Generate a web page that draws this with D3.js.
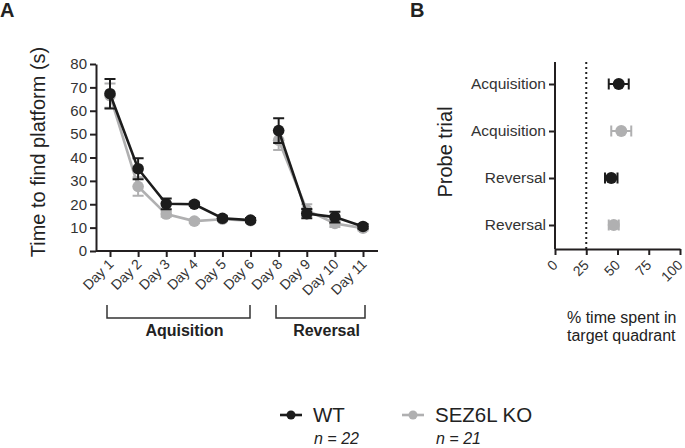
<!DOCTYPE html>
<html><head><meta charset="utf-8">
<script src="https://cdn.jsdelivr.net/npm/d3@7"></script>
<style>
body{margin:0;background:#fff;}
svg{font-family:"Liberation Sans",Arial,Helvetica,sans-serif;}
</style></head>
<body><svg id="c" width="685" height="448"></svg>
<script>
// ---- Data ----
const days = ["Day 1","Day 2","Day 3","Day 4","Day 5","Day 6","Day 8","Day 9","Day 10","Day 11"];
const wtMean = [67.3,35.2,20.2,20.0,14.0,13.2,51.5,16.0,14.5,10.5];
const wtSem  = [6.3,4.5,2.3,0.8,0.9,0.9,5.3,2.0,2.3,1.0];
const koMean = [66.5,27.6,15.8,12.8,13.6,13.0,47.4,17.5,11.8,9.8];
const koSem  = [5.2,4.0,1.2,0.9,0.9,0.9,4.2,2.5,1.5,1.0];
const segments = [[0,6],[6,10]]; // Day 1-6, Day 8-11
const yTicksA = [0,10,20,30,40,50,60,70,80];

const probeLabels = ["Acquisition","Acquisition","Reversal","Reversal"];
const probeGroup  = ["WT","KO","WT","KO"];
const probeMean   = [51,53,45,47];
const probeSem    = [8,8,5,4];
const xTicksB = [0,25,50,75,100];
const chance = 25;

const colWT = "#1c1c1c", colKO = "#b0b0b1", axisCol = "#231f20", textCol = "#333";
const FF = '"Liberation Sans",Arial,Helvetica,sans-serif';

const svg = d3.select("#c");

// ---- Panel A ----
const xA = d3.scalePoint().domain(days).range([110,363]);
const yA = d3.scaleLinear().domain([0,80]).range([251,64]);

const gyA = svg.append("g").attr("transform","translate(96,0)")
  .call(d3.axisLeft(yA).tickValues(yTicksA).tickSize(6).tickSizeOuter(0));
const gxA = svg.append("g").attr("transform","translate(0,251)")
  .call(d3.axisBottom(xA).tickSize(6).tickSizeOuter(0));
gxA.select(".domain").attr("d","M96,0H378");
[gyA,gxA].forEach(g=>{
  g.attr("font-family",FF);
  g.selectAll(".domain,line").attr("stroke",axisCol).attr("stroke-width",2);
  g.selectAll("text").attr("fill",textCol).attr("font-size",15);
});
gyA.selectAll("text").attr("x",-9);
gxA.selectAll("text").attr("font-size",14).attr("text-anchor","end")
  .attr("dy",0).attr("y",0)
  .attr("transform","translate(4,14) rotate(-45)");

function drawSeries(mean, sem, col){
  const g = svg.append("g");
  segments.forEach(([a,b])=>{
    const idx = d3.range(a,b);
    g.append("path")
      .attr("d", d3.line().x(i=>xA(days[i])).y(i=>yA(mean[i]))(idx))
      .attr("fill","none").attr("stroke",col).attr("stroke-width",2.6);
  });
  days.forEach((d,i)=>{
    const x = xA(d), y1 = yA(mean[i]+sem[i]), y0 = yA(mean[i]-sem[i]);
    g.append("path").attr("d",`M${x},${y0}V${y1}M${x-5.5},${y1}H${x+5.5}M${x-5.5},${y0}H${x+5.5}`)
      .attr("stroke",col).attr("stroke-width",2).attr("fill","none");
    g.append("circle").attr("cx",x).attr("cy",yA(mean[i])).attr("r",5.8).attr("fill",col);
  });
}
drawSeries(koMean, koSem, colKO);
drawSeries(wtMean, wtSem, colWT);

svg.append("text").attr("transform","translate(45,152) rotate(-90)")
  .attr("text-anchor","middle").attr("font-size",20).attr("fill","#222")
  .text("Time to find platform (s)");

// brackets
function bracket(x0,x1,label){
  svg.append("path").attr("d",`M${x0},305V318H${x1}V305`)
    .attr("fill","none").attr("stroke","#333").attr("stroke-width",1.5);
  svg.append("text").attr("x",(x0+x1)/2 + 6).attr("y",336).attr("text-anchor","middle")
    .attr("font-weight","bold").attr("font-size",16).attr("fill","#222").text(label);
}
bracket(107,250,"Aquisition");
bracket(276,365,"Reversal");

svg.append("text").attr("x",0).attr("y",17).attr("font-weight","bold").attr("font-size",20).attr("fill","#222").text("A");

// ---- Panel B ----
const xB = d3.scaleLinear().domain([0,100]).range([555,680]);
const yB = d3.scalePoint().domain(d3.range(probeLabels.length)).range([84,225]);

const gyB = svg.append("g").attr("transform","translate(555,0)")
  .call(d3.axisLeft(yB).tickSize(6).tickSizeOuter(0).tickFormat(i=>probeLabels[i]));
gyB.select(".domain").attr("d","M0,62V249");
const gxB = svg.append("g").attr("transform","translate(0,249)")
  .call(d3.axisBottom(xB).tickValues(xTicksB).tickSize(6).tickSizeOuter(0));
[gyB,gxB].forEach(g=>{
  g.attr("font-family",FF);
  g.selectAll(".domain,line").attr("stroke",axisCol).attr("stroke-width",2);
  g.selectAll("text").attr("fill",textCol).attr("font-size",15.5);
});
gyB.selectAll("text").attr("x",-9);
gxB.selectAll("text").attr("font-size",14).attr("text-anchor","end").attr("dy",0).attr("y",0)
  .attr("transform","translate(3,17) rotate(-45)");

svg.append("line").attr("x1",xB(chance)).attr("x2",xB(chance)).attr("y1",62).attr("y2",249)
  .attr("stroke","#222").attr("stroke-width",2).attr("stroke-dasharray","2,3");

probeLabels.forEach((l,i)=>{
  const col = probeGroup[i]==="WT"?colWT:colKO;
  const y = yB(i), x0 = xB(probeMean[i]-probeSem[i]), x1 = xB(probeMean[i]+probeSem[i]);
  svg.append("path").attr("d",`M${x0},${y}H${x1}M${x0},${y-5.5}V${y+5.5}M${x1},${y-5.5}V${y+5.5}`)
    .attr("stroke",col).attr("stroke-width",2).attr("fill","none");
  svg.append("circle").attr("cx",xB(probeMean[i])).attr("cy",y).attr("r",6).attr("fill",col);
});

svg.append("text").attr("transform","translate(452,152) rotate(-90)")
  .attr("text-anchor","middle").attr("font-size",20).attr("fill","#222").text("Probe trial");
const bt = svg.append("text").attr("font-size",16).attr("fill","#222");
bt.append("tspan").attr("x",567).attr("y",323).text("% time spent in");
bt.append("tspan").attr("x",567).attr("y",341).text("target quadrant");

svg.append("text").attr("x",410).attr("y",17).attr("font-weight","bold").attr("font-size",20).attr("fill","#222").text("B");

// ---- Legend ----
const legend = [{name:"WT", n:"22", col:colWT, x:280},{name:"SEZ6L KO", n:"21", col:colKO, x:402}];
legend.forEach(d=>{
  const g = svg.append("g");
  g.append("line").attr("x1",d.x).attr("x2",d.x+22).attr("y1",415).attr("y2",415)
    .attr("stroke",d.col).attr("stroke-width",2.6);
  g.append("circle").attr("cx",d.x+11).attr("cy",415).attr("r",4.5).attr("fill",d.col);
  g.append("text").attr("x",d.x+33).attr("y",422).attr("font-size",20.5).attr("fill","#222").text(d.name);
  const t = g.append("text").attr("x",d.x+34).attr("y",444).attr("font-size",16).attr("fill","#222").attr("font-style","italic");
  t.append("tspan").text("n");
  t.append("tspan").text(" = "+d.n);
});
</script></body></html>
